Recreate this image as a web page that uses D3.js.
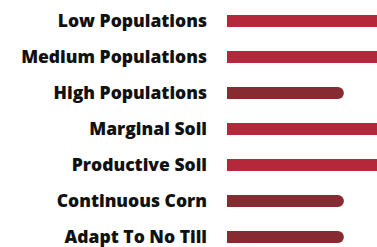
<!DOCTYPE html>
<html>
<head>
<meta charset="utf-8">
<script src="https://cdn.jsdelivr.net/npm/d3@7"></script>
<style>
  html, body { margin: 0; padding: 0; background: #fff; }
  svg { display: block; }
  .label { font-family: "Open Sans", sans-serif; font-weight: 800; font-size: 17.5px; fill: #111; }
</style>
</head>
<body>
<div id="chart"></div>
<script>
// categories, top to bottom
var categories = ["Low Populations", "Medium Populations", "High Populations",
  "Marginal Soil", "Productive Soil", "Continuous Corn", "Adapt To No Till"];
// relative score per category
var values = [100, 100, 70, 100, 100, 70, 70];
// which tone each bar uses
var tones = ["high", "high", "mid", "high", "high", "mid", "mid"];

var width = 377, height = 247;
var barH = 12, r = 6;

var svg = d3.select("#chart")
  .append("svg")
    .attr("width", width)
    .attr("height", height);

var y = d3.scaleBand()
  .domain(categories)
  .range([3, 255])
  .paddingInner(0.667)
  .paddingOuter(0.333);

var x = d3.scaleLinear()
  .domain([0, 100])
  .range([227, 394]);

var color = d3.scaleOrdinal()
  .domain(["high", "mid"])
  .range(["#b5283b", "#882a31"]);

// bar with square left end and rounded right end
function barPath(x0, x1, y0, h) {
  var p = d3.path();
  p.moveTo(x0, y0);
  p.lineTo(x1 - r, y0);
  p.arcTo(x1, y0, x1, y0 + r, r);
  p.lineTo(x1, y0 + h - r);
  p.arcTo(x1, y0 + h, x1 - r, y0 + h, r);
  p.lineTo(x0, y0 + h);
  p.closePath();
  return p.toString();
}

var rows = categories.map(function(c, i) {
  return {name: c, value: values[i], tone: tones[i]};
});

svg.selectAll("path.bar")
  .data(rows)
  .enter()
  .append("path")
    .attr("class", "bar")
    .attr("d", function(d) {
      var cy = y(d.name) + y.bandwidth() / 2;
      return barPath(x(0), x(d.value), cy - barH / 2, barH);
    })
    .attr("fill", function(d) { return color(d.tone); });

svg.selectAll("text.label")
  .data(rows)
  .enter()
  .append("text")
    .attr("class", "label")
    .attr("x", 207)
    .attr("y", function(d) { return y(d.name) + y.bandwidth() / 2; })
    .attr("dy", "0.35em")
    .attr("text-anchor", "end")
    .text(function(d) { return d.name; });
</script>
</body>
</html>
